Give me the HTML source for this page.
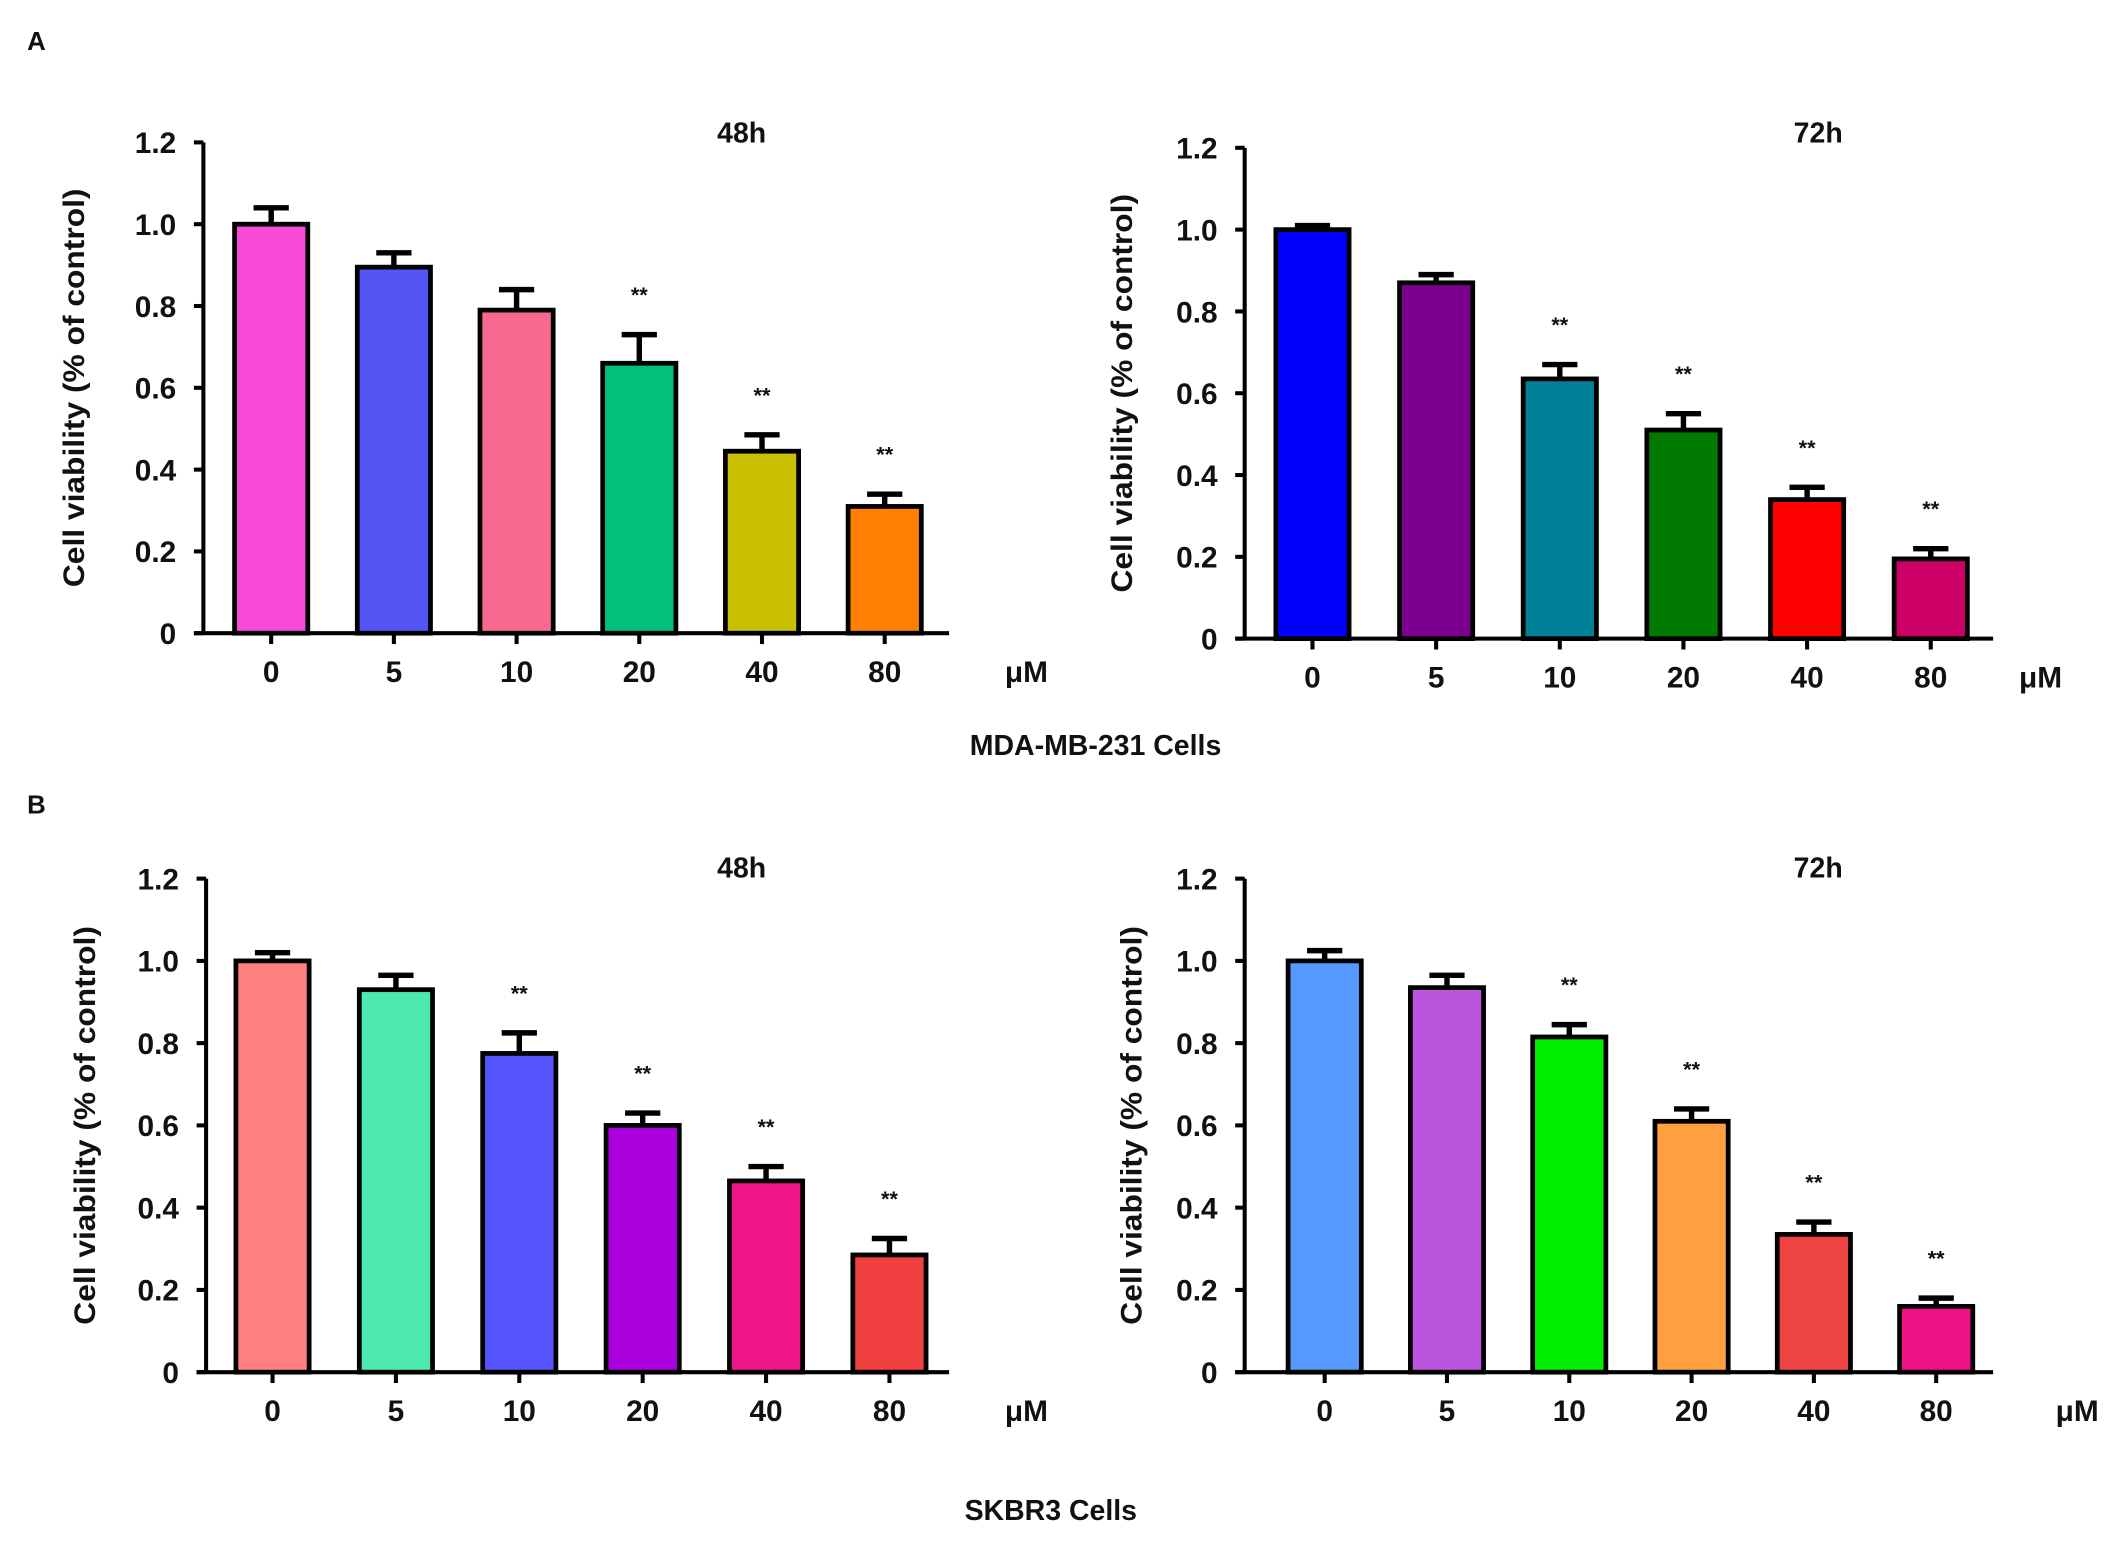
<!DOCTYPE html>
<html><head><meta charset="utf-8"><style>
html,body{margin:0;padding:0;background:#fff}
svg{display:block}
text{font-family:"Liberation Sans",Arial,sans-serif;font-weight:bold;fill:#111}
</style></head><body>
<svg id="fig" width="2126" height="1549" viewBox="0 0 1568 1142.4" xmlns="http://www.w3.org/2000/svg">
<text x="20" y="37" font-size="19">A</text>
<text x="20" y="600" font-size="19">B</text>
<text x="808" y="557" font-size="21" text-anchor="middle">MDA-MB-231  Cells</text>
<text x="775" y="1121" font-size="21" text-anchor="middle">SKBR3 Cells</text>
</svg>
<script>
const categories = ["0","5","10","20","40","80"];
const yTicks = [0,0.2,0.4,0.6,0.8,1.0,1.2];
const yTickLabels = ["0","0.2","0.4","0.6","0.8","1.0","1.2"];
const valuesA48 = [1.0,0.895,0.79,0.66,0.445,0.31];
const errorsA48 = [0.04,0.035,0.05,0.07,0.04,0.03];
const starsA48 = [false,false,false,true,true,true];
const colorsA48 = ["#f84ad8","#5555f5","#f86890","#00c07a","#c8c000","#ff8000"];
const valuesA72 = [1.0,0.87,0.635,0.51,0.34,0.195];
const errorsA72 = [0.01,0.02,0.035,0.04,0.03,0.025];
const starsA72 = [false,false,true,true,true,true];
const colorsA72 = ["#0000ff","#7b0090","#008099","#007a00","#ff0000","#cc0066"];
const valuesB48 = [1.0,0.93,0.775,0.6,0.465,0.285];
const errorsB48 = [0.02,0.035,0.05,0.03,0.035,0.04];
const starsB48 = [false,false,true,true,true,true];
const colorsB48 = ["#ff7f7f","#4deab0","#5555ff","#aa00dd","#f0148a","#f04040"];
const valuesB72 = [1.0,0.935,0.815,0.61,0.335,0.16];
const errorsB72 = [0.025,0.03,0.03,0.03,0.03,0.02];
const starsB72 = [false,false,true,true,true,true];
const colorsB72 = ["#5599ff","#bb55dd","#00ee00","#ff9f40","#ee4444","#ee1188"];

const NS="http://www.w3.org/2000/svg";
const svg=document.getElementById('fig');
function mk(tag,attrs,parent){const e=document.createElementNS(NS,tag);for(const k in attrs)e.setAttribute(k,attrs[k]);(parent||svg).appendChild(e);return e;}

function panel(cfg,vals,errs,stars,cols,id){
  const g=mk('g',{});
  
  
  const yS=v=>cfg.y0-(cfg.y0-cfg.y12)*v/1.2;
  const xS=i=>cfg.x0+cfg.step*i;
  const ya=mk('line',{x1:cfg.ax,y1:cfg.y12,x2:cfg.ax,y2:cfg.y0,stroke:'#000','stroke-width':3},g);
  
  
  yTicks.forEach((t,i)=>{
    mk('line',{x1:cfg.ax-7,y1:yS(t),x2:cfg.ax,y2:yS(t),stroke:'#000','stroke-width':3},g);
    const tl=mk('text',{x:cfg.ax-20,y:yS(t)+8,'font-size':22,'text-anchor':'end'},g);
    tl.textContent=yTickLabels[i];
    
    
  });
  const xa=mk('line',{x1:cfg.ax-7,y1:cfg.y0,x2:cfg.xend,y2:cfg.y0,stroke:'#000','stroke-width':3},g);
  
  
  const yl=mk('text',{x:0,y:0,'font-size':22,'text-anchor':'middle',textLength:294,lengthAdjust:'spacingAndGlyphs',transform:`translate(${cfg.ylx},${(cfg.y0+cfg.y12)/2}) rotate(-90)`},g);
  yl.textContent='Cell viability (%  of control)';
  
  
  const ti=mk('text',{x:cfg.tx,y:cfg.ty,'font-size':21,'text-anchor':'middle'},g);
  ti.textContent=cfg.title;
  
  
  const um=mk('text',{x:cfg.ux,y:cfg.y0+36,'font-size':22,'text-anchor':'middle'},g);
  um.textContent='μM';
  
  
  const bw=54;
  categories.forEach((c,i)=>{
    const cx=xS(i);
    mk('line',{x1:cx,y1:cfg.y0,x2:cx,y2:cfg.y0+8,stroke:'#000','stroke-width':3},g);
    const xl=mk('text',{x:cx,y:cfg.y0+36,'font-size':22,'text-anchor':'middle'},g);
    xl.textContent=c;
    
    
    const top=yS(vals[i]), et=yS(vals[i]+errs[i]);
    const eb=mk('path',{d:`M${cx},${top} V${et} M${cx-13},${et} H${cx+13}`,stroke:'#000','stroke-width':4,fill:'none'},g);
    
    
    const r=mk('rect',{x:cx-bw/2,y:top,width:bw,height:cfg.y0-top,fill:cols[i],stroke:'#000','stroke-width':3.5},g);
    
    
    if(stars[i]){
      const s=mk('text',{x:cx,y:et-24,'font-size':16,'text-anchor':'middle','font-weight':'normal'},g);
      s.textContent='**';
      
      
    }
  });
}
panel({ax:150,y0:467,y12:105,x0:200,step:90.5,xend:700,ylx:62,tx:547,ty:105,title:'48h',ux:757},valuesA48,errorsA48,starsA48,colorsA48,'mda-48h');
panel({ax:918,y0:471,y12:109,x0:968,step:91.2,xend:1470,ylx:835,tx:1341,ty:105,title:'72h',ux:1505},valuesA72,errorsA72,starsA72,colorsA72,'mda-72h');
panel({ax:152,y0:1012,y12:648,x0:201,step:91,xend:700,ylx:70,tx:547,ty:647,title:'48h',ux:757},valuesB48,errorsB48,starsB48,colorsB48,'skbr3-48h');
panel({ax:918,y0:1012,y12:648,x0:977,step:90.2,xend:1470,ylx:842,tx:1341,ty:647,title:'72h',ux:1532},valuesB72,errorsB72,starsB72,colorsB72,'skbr3-72h');
</script>
</body></html>
